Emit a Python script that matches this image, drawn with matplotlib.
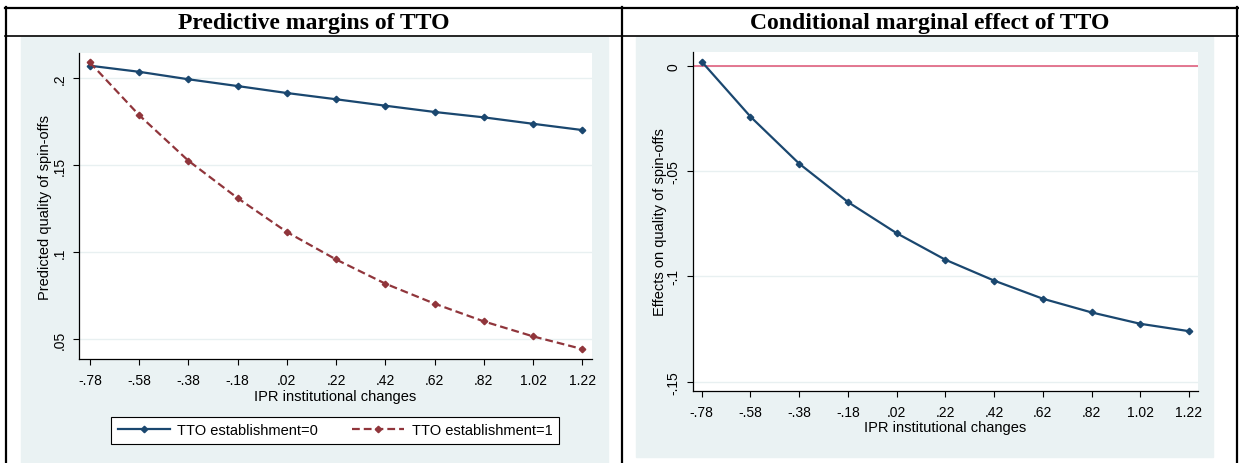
import matplotlib.pyplot as plt
from matplotlib.lines import Line2D
from matplotlib.patches import Rectangle

# values (Stata marginsplot)
ipr = [-0.78, -0.58, -0.38, -0.18, 0.02, 0.22, 0.42, 0.62, 0.82, 1.02, 1.22]
ipr_labels = ['-.78', '-.58', '-.38', '-.18', '.02', '.22', '.42', '.62', '.82', '1.02', '1.22']

tto0 = [0.2071, 0.2036, 0.1993, 0.1954, 0.1914, 0.1878, 0.1841, 0.1805, 0.1774, 0.1737, 0.1701]
tto1 = [0.2090, 0.1787, 0.1525, 0.1310, 0.1115, 0.0957, 0.0818, 0.0703, 0.0601, 0.0515, 0.0442]
effect = [0.0019, -0.0242, -0.0465, -0.0647, -0.0795, -0.0921, -0.1020, -0.1106, -0.1171, -0.1225, -0.1260]

left_yticks = [0.05, 0.1, 0.15, 0.2]
left_ylabels = ['.05', '.1', '.15', '.2']
right_yticks = [-0.15, -0.1, -0.05, 0]
right_ylabels = ['-.15', '-.1', '-.05', '0']

NAVY = '#1a476f'
MAROON = '#90353b'
STATA_BG = '#eaf2f3'
GRID = '#e8f0f1'

plt.rcParams['font.family'] = ['Liberation Sans', 'DejaVu Sans']

W, H = 1239, 464
fig = plt.figure(figsize=(W / 100, H / 100), dpi=100)


def px_axes(x0, y0, x1, y1):
    return fig.add_axes([x0 / W, 1 - y1 / H, (x1 - x0) / W, (y1 - y0) / H])


def fig_line(xs, ys, lw):
    fig.add_artist(Line2D([x / W for x in xs], [1 - y / H for y in ys],
                          color='black', lw=lw, zorder=10))


def stata_style(ax, yticks, ylabels):
    ax.set_facecolor('white')
    for side in ['top', 'right']:
        ax.spines[side].set_visible(False)
    for side in ['left', 'bottom']:
        ax.spines[side].set_linewidth(0.9)
    ax.set_xticks(ipr)
    ax.set_xticklabels(ipr_labels)
    ax.set_yticks(yticks)
    ax.set_yticklabels(ylabels, rotation=90, va='center')
    ax.tick_params(axis='both', direction='out', length=4, width=0.8, labelsize=10)
    ax.tick_params(axis='x', pad=6)
    ax.tick_params(axis='y', pad=5)
    ax.yaxis.grid(True, color=GRID, lw=1.0)
    ax.set_axisbelow(True)


# grey Stata graph regions
fig.add_artist(Rectangle((21 / W, 0), (608 - 21) / W, 1 - 38 / H,
                         transform=fig.transFigure, color=STATA_BG, zorder=-5))
fig.add_artist(Rectangle((636 / W, 1 - 458 / H), (1213 - 636) / W, (458 - 38) / H,
                         transform=fig.transFigure, color=STATA_BG, zorder=-5))

# left panel: predictive margins
ax1 = px_axes(79, 54, 592, 360)
stata_style(ax1, left_yticks, left_ylabels)
ax1.plot(ipr, tto0, color=NAVY, lw=1.6, marker='D', ms=3.3, label='TTO establishment=0')
ax1.plot(ipr, tto1, color=MAROON, lw=1.6, ls=(0, (3.5, 1.8)), marker='D', ms=3.3,
         label='TTO establishment=1')
ax1.set_xlim(-0.824, 1.259)
ax1.set_ylim(0.0385, 0.2144)
ax1.set_xlabel('IPR institutional changes', fontsize=10.5)
ax1.set_ylabel('Predicted quality of spin-offs', fontsize=10.5)
ax1.xaxis.label.set_va('center')
ax1.yaxis.label.set_va('center')
ax1.xaxis.set_label_coords((335 - 79) / 513, (360 - 397) / 306)
ax1.yaxis.set_label_coords((45 - 79) / 513, 0.5)

leg = ax1.legend(ncol=2, loc='center', bbox_to_anchor=(335 / W, 1 - 431.5 / H),
                 bbox_transform=fig.transFigure, frameon=True, fancybox=False,
                 edgecolor='black', framealpha=1, fontsize=10.5, handlelength=3.6,
                 columnspacing=2.3, borderpad=0.45, handletextpad=0.5)
leg.get_frame().set_linewidth(0.8)

# right panel: conditional marginal effect
ax2 = px_axes(693, 53, 1198, 392)
stata_style(ax2, right_yticks, right_ylabels)
ax2.axhline(0, color='#e0607e', lw=1.2, zorder=1)
ax2.plot(ipr, effect, color=NAVY, lw=1.6, marker='D', ms=3.3, zorder=3)
ax2.set_xlim(-0.816, 1.257)
ax2.set_ylim(-0.1544, 0.0065)
ax2.set_xlabel('IPR institutional changes', fontsize=10.5)
ax2.set_ylabel('Effects on quality of spin-offs', fontsize=10.5)
ax2.xaxis.label.set_va('center')
ax2.yaxis.label.set_va('center')
ax2.xaxis.set_label_coords(0.5, (392 - 428) / 339)
ax2.yaxis.set_label_coords((660 - 693) / 505, 0.5)

# table frame and header row
fig_line([5, 1238], [8.5, 8.5], 1.6)
fig_line([5, 1238], [37, 37], 1.2)
fig_line([6, 6], [8, 464], 1.6)
fig_line([622, 622], [8, 464], 1.6)
fig_line([1237, 1237], [8, 464], 1.6)

fig.text(314 / W, 1 - 23 / H, 'Predictive margins of TTO', ha='center', va='center',
         family=['Liberation Serif', 'DejaVu Serif'], weight='bold', fontsize=17)
fig.text(930 / W, 1 - 23 / H, 'Conditional marginal effect of TTO', ha='center', va='center',
         family=['Liberation Serif', 'DejaVu Serif'], weight='bold', fontsize=17)

fig.savefig('out.png', dpi=100)
